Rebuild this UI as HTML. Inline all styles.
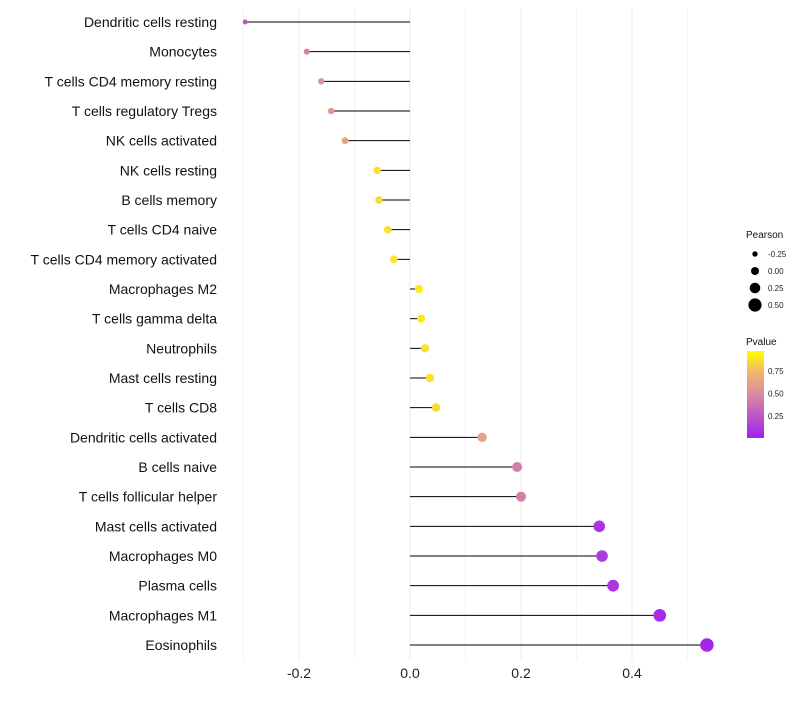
<!DOCTYPE html>
<html><head><meta charset="utf-8"><style>
body{margin:0;background:#fff;font-family:"Liberation Sans",sans-serif}
</style></head><body>
<svg id="c" width="800" height="700" xmlns="http://www.w3.org/2000/svg"></svg>
<script>
const cells=["Dendritic cells resting","Monocytes","T cells CD4 memory resting","T cells regulatory  Tregs ","NK cells activated","NK cells resting","B cells memory","T cells CD4 naive","T cells CD4 memory activated","Macrophages M2","T cells gamma delta","Neutrophils","Mast cells resting","T cells CD8","Dendritic cells activated","B cells naive","T cells follicular helper","Mast cells activated","Macrophages M0","Plasma cells","Macrophages M1","Eosinophils"];
const pearson=[-0.297,-0.186,-0.160,-0.142,-0.117,-0.059,-0.056,-0.040,-0.029,0.016,0.020,0.027,0.036,0.047,0.130,0.193,0.200,0.341,0.346,0.366,0.450,0.535];
const pvalue=[0.25,0.45,0.55,0.58,0.65,0.88,0.88,0.9,0.9,0.93,0.92,0.9,0.9,0.88,0.65,0.45,0.45,0.1,0.12,0.1,0.06,0.03];
const xticks=[-0.2,0,0.2,0.4];
const xminor=[-0.3,-0.1,0.1,0.3,0.5];
const sizeTicks=[-0.25,0,0.25,0.5];
const colorTicks=[0.75,0.5,0.25];
const svg=document.getElementById('c');
const NS="http://www.w3.org/2000/svg";
const X=v=>410+v*555;
const Y=i=>22+i*(623/21);
const R=p=>Math.max(1.5,4+5.2*p);
function lerp(a,b,t){return a.map((v,i)=>Math.round(v+(b[i]-v)*t));}
function col(p){const s=[[0,[160,32,240]],[0.5,[218,138,160]],[0.75,[240,180,110]],[1,[255,255,0]]];
for(let i=0;i<s.length-1;i++){if(p<=s[i+1][0]){const t=(p-s[i][0])/(s[i+1][0]-s[i][0]);const c=lerp(s[i][1],s[i+1][1],t);return `rgb(${c})`;}}return 'rgb(255,255,0)';}
function el(t,a,txt){const e=document.createElementNS(NS,t);for(const k in a)e.setAttribute(k,a[k]);if(txt!==undefined)e.textContent=txt;svg.appendChild(e);return e;}
xminor.forEach(v=>{const e=el('line',{x1:X(v),x2:X(v),y1:8,y2:660,stroke:'#f2f2f2','stroke-width':1});

});
xticks.forEach(v=>{const e=el('line',{x1:X(v),x2:X(v),y1:8,y2:660,stroke:'#ebebeb','stroke-width':1});


const t=el('text',{x:X(v),y:678,'text-anchor':'middle','font-size':14,fill:'#222'},v===0?'0.0':v.toFixed(1));

});
cells.forEach((c,i)=>{const y=Y(i);
const t=el('text',{x:217,y:y+5,'text-anchor':'end','font-size':14,fill:'#111'},c);


const l=el('line',{x1:X(0),x2:X(pearson[i]),y1:y,y2:y,stroke:'#000','stroke-width':1});


const p=el('circle',{cx:X(pearson[i]),cy:y,r:R(pearson[i]),fill:col(pvalue[i])});

});
const lt=el('text',{x:746,y:238,'font-size':10,fill:'#111'},'Pearson');


sizeTicks.forEach((v,i)=>{const y=254+i*17;
const c=el('circle',{cx:755,cy:y,r:R(v),fill:'#000'});


const t=el('text',{x:768,y:y+3,'font-size':8,fill:'#222'},v.toFixed(2));

});
const ct=el('text',{x:746,y:345,'font-size':10,fill:'#111'},'Pvalue');


const defs=el('defs',{});
defs.innerHTML='<linearGradient id="g" x1="0" y1="1" x2="0" y2="0"><stop offset="0" stop-color="rgb(160,32,240)"/><stop offset="0.5" stop-color="rgb(218,138,160)"/><stop offset="0.75" stop-color="rgb(240,180,110)"/><stop offset="1" stop-color="rgb(255,255,0)"/></linearGradient>';
const cb=el('rect',{x:747,y:351,width:17,height:87,fill:'url(#g)'});


colorTicks.forEach(v=>{const y=438-(v-0.006)/0.25*22.5;
const t=el('text',{x:768,y:y+3,'font-size':8,fill:'#222'},v.toFixed(2));

});
</script>
</body></html>
